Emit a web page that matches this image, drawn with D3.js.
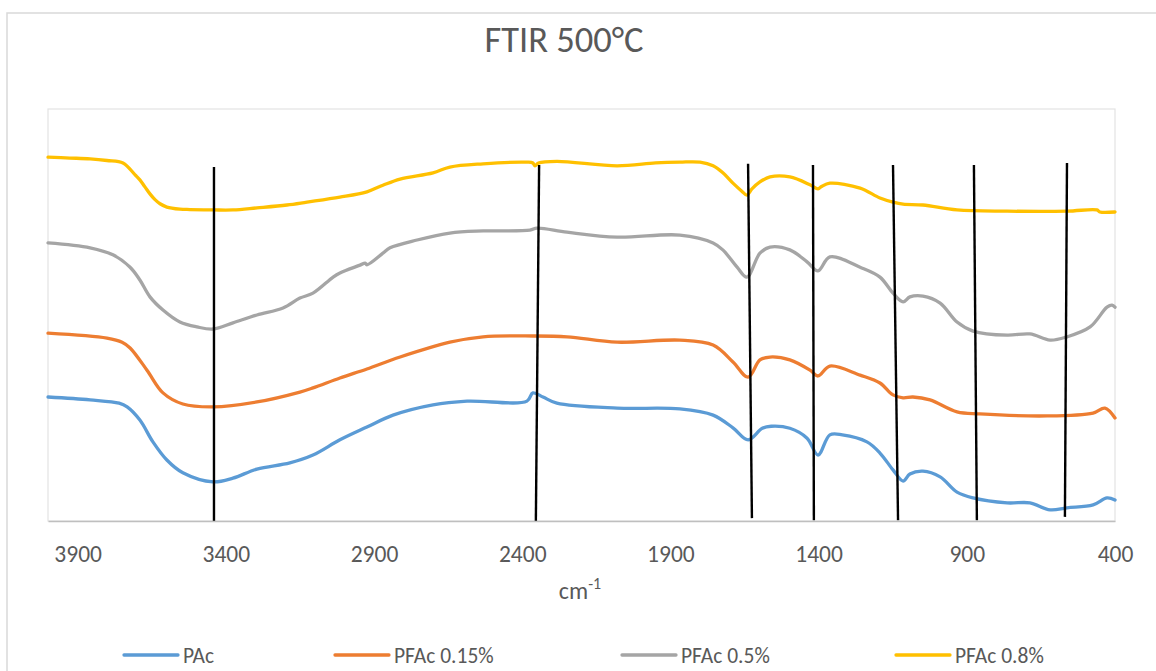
<!DOCTYPE html>
<html>
<head>
<meta charset="utf-8">
<script src="https://cdn.jsdelivr.net/npm/d3@7/dist/d3.min.js"></script>
<style>
  html, body { margin: 0; padding: 0; background: #fff; }
  svg { display: block; font-family: Carlito, Calibri, Lato, "Open Sans", sans-serif; }
</style>
</head>
<body>
<svg id="chart" width="1156" height="671"></svg>
<script>
// FTIR spectra after 500 °C treatment, stacked with vertical offsets.
// Each series is [wavenumber (cm-1), offset transmittance (a.u.)].
const seriesNames = ["PAc", "PFAc 0.15%", "PFAc 0.5%", "PFAc 0.8%"];
const seriesColors = ["#5B9BD5", "#ED7D31", "#A5A5A5", "#FFC000"];

const pac = [
  [4000, 30.1], [3858, 29.4], [3760, 28.6], [3733, 27.7], [3690, 24.5], [3646, 19.2], [3599, 14.8],
  [3545, 11.7], [3443, 9.5], [3376, 10.4], [3295, 12.6], [3184, 14.1], [3106, 16.0],
  [3015, 19.7], [2924, 22.8], [2836, 25.7], [2701, 28.2], [2586, 29.1], [2384, 29.1],
  [2364, 31.1], [2330, 30.1], [2283, 28.6], [2080, 27.4], [1868, 27.2], [1756, 25.7],
  [1689, 22.6], [1638, 19.7], [1590, 22.5], [1560, 23.0], [1497, 22.5], [1439, 20.1], [1402, 16.0],
  [1362, 20.9], [1320, 20.9], [1237, 19.2], [1193, 16.5], [1149, 12.4], [1115, 9.7],
  [1092, 11.4], [1048, 12.1], [990, 10.7], [933, 7.0], [879, 5.6], [764, 4.4],
  [687, 4.4], [619, 2.7], [562, 3.2], [474, 3.9], [427, 5.6], [400, 5.1]
];

const pfac015 = [
  [4000, 45.6], [3801, 44.4], [3750, 43.4], [3723, 42.0], [3666, 36.6], [3612, 31.1], [3545, 28.4],
  [3443, 27.7], [3295, 28.9], [3150, 31.3], [3106, 32.3], [3015, 34.7], [2924, 36.9],
  [2812, 39.8], [2644, 43.4], [2532, 44.7], [2364, 44.9], [2249, 44.7], [2080, 43.4],
  [1868, 43.9], [1756, 42.7], [1689, 38.6], [1638, 34.9], [1598, 39.1], [1564, 39.8],
  [1497, 39.1], [1429, 36.6], [1402, 35.2], [1362, 37.6], [1260, 35.4], [1193, 33.5],
  [1149, 30.6], [1115, 29.9], [1082, 30.1], [1024, 29.4], [933, 26.5], [856, 26.0],
  [629, 25.5], [474, 26.2], [434, 27.4], [400, 25.0]
];

const pfac05 = [
  [4000, 67.5], [3858, 66.3], [3781, 64.6], [3723, 61.6], [3690, 58.5], [3656, 54.4],
  [3612, 51.2], [3555, 48.3], [3497, 47.1], [3443, 46.6], [3376, 48.1], [3295, 50.0],
  [3207, 51.7], [3150, 54.1], [3106, 55.3], [3038, 59.2], [3015, 60.2], [2947, 62.1],
  [2930, 62.6], [2924, 62.2], [2870, 65.0], [2846, 66.3], [2755, 68.2], [2644, 69.9],
  [2532, 70.4], [2374, 70.6], [2350, 71.1], [2249, 70.1], [2080, 68.9], [1868, 69.4],
  [1756, 67.5], [1723, 65.8], [1675, 61.6], [1642, 59.2], [1598, 65.0], [1564, 66.5],
  [1497, 65.8], [1439, 62.9], [1402, 60.7], [1362, 64.1], [1260, 61.6], [1193, 59.2],
  [1149, 55.3], [1115, 53.2], [1092, 54.4], [1048, 54.6], [990, 52.9], [933, 48.3],
  [879, 46.1], [764, 45.1], [687, 45.4], [619, 43.9], [562, 44.7], [484, 47.1],
  [427, 51.9], [410, 52.4], [400, 51.9]
];

const pfac08 = [
  [4000, 88.3], [3926, 88.1], [3858, 87.9], [3801, 87.5], [3747, 86.9], [3706, 84.0],
  [3690, 82.8], [3673, 81.1], [3656, 79.4], [3639, 78.0], [3622, 77.0], [3599, 76.2],
  [3555, 75.7], [3521, 75.6], [3440, 75.5], [3376, 75.5], [3295, 76.0], [3194, 76.7],
  [3126, 77.4], [3015, 78.6], [2924, 79.9], [2870, 81.5], [2812, 83.0], [2701, 84.5],
  [2644, 85.9], [2532, 86.7], [2384, 87.1], [2364, 86.9], [2357, 86.2], [2345, 86.9],
  [2283, 87.3], [2080, 86.2], [1950, 86.9], [1868, 87.1], [1800, 87.1], [1756, 86.2],
  [1723, 84.5], [1689, 82.0], [1660, 80.1], [1642, 79.1], [1625, 80.6], [1598, 82.3],
  [1564, 83.5], [1497, 83.5], [1429, 81.6], [1402, 80.6], [1390, 81.2], [1362, 82.0],
  [1260, 80.8], [1193, 78.4], [1149, 77.4], [1115, 76.9], [1048, 76.7], [933, 75.5],
  [764, 75.2], [562, 75.2], [461, 75.5], [451, 75.0], [400, 75.0]
];

const seriesData = [pac, pfac015, pfac05, pfac08];

// Band markers: [wavenumber at top, value at top, wavenumber at bottom, value at bottom]
const bandMarkers = [
  [3440, 85.9, 3440, 0.0],
  [2343, 86.4, 2354, 0.0],
  [1638, 86.7, 1625, 0.7],
  [1419, 86.4, 1416, 0.2],
  [1149, 86.4, 1132, 0.2],
  [876, 86.4, 866, 0.2],
  [562, 86.9, 569, 1.0]
];

const xTicks = [3900, 3400, 2900, 2400, 1900, 1400, 900, 400];

const svg = d3.select("#chart");

// Chart frame
svg.append("rect")
  .attr("x", 7).attr("y", 13)
  .attr("width", 1160).attr("height", 680)
  .attr("fill", "#fff")
  .attr("stroke", "#d9d9d9").attr("stroke-width", 1.5);

const plot = { left: 48, top: 109, right: 1115, bottom: 521 };

const x = d3.scaleLinear().domain([4000, 400]).range([plot.left, plot.right]);
const y = d3.scaleLinear().domain([0, 100]).range([plot.bottom, plot.top]);

// Plot area outline
svg.append("rect")
  .attr("x", plot.left).attr("y", plot.top)
  .attr("width", plot.right - plot.left).attr("height", plot.bottom - plot.top)
  .attr("fill", "none")
  .attr("stroke", "#e3e3e3").attr("stroke-width", 1.2);

// Title
svg.append("text")
  .attr("x", 564).attr("y", 52)
  .attr("text-anchor", "middle")
  .attr("fill", "#595959")
  .attr("font-size", 36.5)
  .text("FTIR 500°C");

// Spectra
const line = d3.line()
  .x(d => x(d[0]))
  .y(d => y(d[1]))
  .curve(d3.curveCatmullRom.alpha(0.5));

svg.append("g")
  .selectAll("path")
  .data(seriesData)
  .join("path")
  .attr("d", line)
  .attr("fill", "none")
  .attr("stroke", (d, i) => seriesColors[i])
  .attr("stroke-width", 3.3)
  .attr("stroke-linejoin", "round")
  .attr("stroke-linecap", "round");

// Band marker lines
svg.append("g")
  .selectAll("line")
  .data(bandMarkers)
  .join("line")
  .attr("x1", d => x(d[0])).attr("y1", d => y(d[1]))
  .attr("x2", d => x(d[2])).attr("y2", d => y(d[3]))
  .attr("stroke", "#000")
  .attr("stroke-width", 2.4);

// X axis
const xAxis = d3.axisBottom(x)
  .tickValues(xTicks)
  .tickFormat(d3.format("d"))
  .tickSize(0)
  .tickSizeOuter(0)
  .tickPadding(24);

const gx = svg.append("g")
  .attr("transform", `translate(0,${plot.bottom})`)
  .call(xAxis);
gx.select(".domain").attr("stroke", "#bfbfbf").attr("stroke-width", 1.6);
gx.selectAll("text")
  .attr("fill", "#595959")
  .attr("font-size", 23.5)
  .attr("font-family", "Carlito, Calibri, Lato, sans-serif");

// Axis title with superscript
const axTitle = svg.append("text")
  .attr("x", 580).attr("y", 599)
  .attr("text-anchor", "middle")
  .attr("fill", "#595959")
  .attr("font-size", 24);
axTitle.append("tspan").text("cm");
axTitle.append("tspan").attr("dy", -10).attr("font-size", 16).text("-1");

// Legend
const legendX = [124, 335, 622, 896];
const legend = svg.append("g")
  .selectAll("g")
  .data(seriesNames)
  .join("g")
  .attr("transform", (d, i) => `translate(${legendX[i]},655)`);
legend.append("line")
  .attr("x1", 0).attr("x2", 54)
  .attr("y1", 0).attr("y2", 0)
  .attr("stroke", (d, i) => seriesColors[i])
  .attr("stroke-width", 3.3)
  .attr("stroke-linecap", "round");
legend.append("text")
  .attr("x", 59).attr("y", 7.5)
  .attr("fill", "#595959")
  .attr("font-size", 21.5)
  .text(d => d);
</script>
</body>
</html>
